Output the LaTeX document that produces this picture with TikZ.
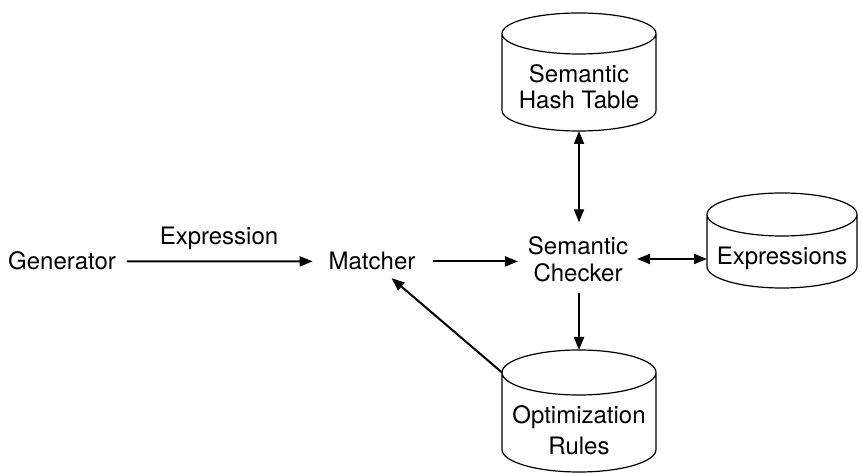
\documentclass[tikz,border=0pt]{standalone}
\usepackage{fontspec}
\setmainfont{TeX Gyre Heros}
\usetikzlibrary{arrows.meta}

% Outline of a database cylinder drawn round a box node:
% #1 node name, #2 x radius, #3 y radius of the end ellipses
\newcommand\cylinderoutline[3]{%
  \draw[cylline] ([yshift=-#3]#1.north) ellipse [x radius=#2, y radius=#3]
    ([yshift=-#3]#1.north west) -- ([yshift=#3]#1.south west)
    arc [start angle=180, end angle=360, x radius=#2, y radius=#3]
    -- ([yshift=-#3]#1.north east);
}

\tikzset{
  txt/.style={inner sep=0pt, outer sep=0pt, align=center,
    font=\fontsize{12}{13.5}\selectfont},
  cylbox/.style={draw=none, inner sep=0pt, outer sep=0pt},
  cylline/.style={line width=0.6pt},
  arr/.style={line width=1pt, -{Triangle[length=6.5pt,width=5pt]}},
  darr/.style={line width=1pt, {Triangle[length=6.5pt,width=5pt]}-{Triangle[length=6.5pt,width=5pt]}},
}

\begin{document}
\begin{tikzpicture}[x=0.5pt, y=0.5pt]
  \useasboundingbox (0,0) rectangle (862,-474);

  % plain text nodes
  \node[txt, anchor=base] (gen) at (62,-270) {Generator};
  \node[txt, anchor=base] (matcher) at (372,-270) {Matcher};
  \node[txt, anchor=base] (exprlabel) at (219,-245) {Expression};
  \node[txt] (checker) at (578,-259) {Semantic\\Checker};

  % database cylinders
  \node[cylbox, minimum width=77pt, minimum height=59pt] (hash) at (579,-72) {};
  \cylinderoutline{hash}{38.5pt}{10.25pt}
  \node[txt, font=\fontsize{12}{13}\selectfont] (hashtext) at (579,-86.5) {Semantic\\Hash Table};

  \node[cylbox, minimum width=75pt, minimum height=47.5pt] (expr) at (782,-240.5) {};
  \cylinderoutline{expr}{37.5pt}{10.75pt}
  \node[txt, anchor=base] (exprtext) at (782,-265) {Expressions};

  \node[cylbox, minimum width=77pt, minimum height=61pt] (opt) at (579,-411) {};
  \cylinderoutline{opt}{38.5pt}{11.25pt}
  \node[txt, font=\fontsize{12}{15.5}\selectfont] (opttext) at (579,-430.5) {Optimization\\Rules};

  % connectors
  \draw[arr, shorten <=5.5pt, shorten >=8pt] (gen.east) -- (matcher.west);
  \draw[arr, shorten <=9pt, shorten >=5pt] (matcher.east) -- (matcher.east -| checker.west);
  \draw[darr, shorten >=7pt] (hash.south) -- (hash.south |- checker.north);
  \draw[darr, shorten <=4.5pt] (checker.east) -- (checker.east -| expr.west);
  \draw[arr, shorten <=5.5pt] (opt.north |- checker.south) -- (opt.north);
  \draw[arr, shorten >=6pt] ([yshift=-11.25pt]opt.north west) -- (matcher);
\end{tikzpicture}
\end{document}
